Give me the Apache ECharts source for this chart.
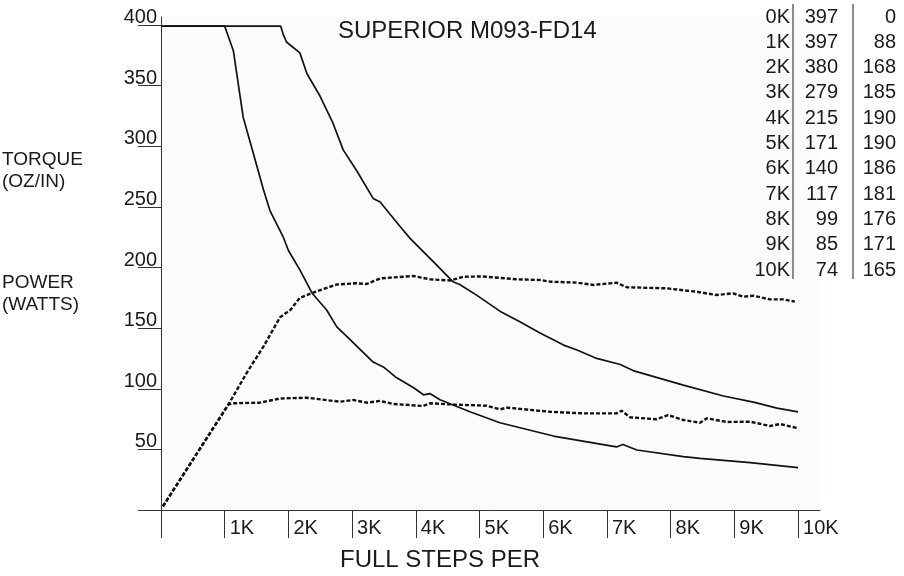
<!DOCTYPE html>
<html>
<head>
<meta charset="utf-8">
<title>SUPERIOR M093-FD14</title>
<script src="https://cdn.jsdelivr.net/npm/echarts@6/dist/echarts.min.js"></script>
<style>
  html, body { margin: 0; padding: 0; background: #fff; }
  #chart { width: 904px; height: 576px; }
</style>
</head>
<body>
<div id="chart"></div>
<script>
// speed in K full steps/s, torque oz/in, power watts
const torqueLow = [[0, 399], [1.0, 399], [1.135, 379], [1.29, 324], [1.45, 294], [1.61, 264], [1.71, 247], [1.92, 225], [2.0, 214], [2.18, 198], [2.37, 179], [2.6, 165], [2.76, 151], [2.92, 143], [3.33, 122], [3.49, 118], [3.7, 109], [3.96, 101], [4.12, 95], [4.22, 96], [4.38, 91], [4.85, 81], [5.32, 72], [6.16, 61], [7.15, 52], [7.25, 54], [7.47, 49.5], [8.2, 44], [8.46, 42.6], [9.25, 39], [10, 35]];
const torqueHigh = [[0, 399], [1.88, 399], [1.92, 392], [1.97, 386], [2.18, 377], [2.29, 360], [2.5, 341], [2.7, 319], [2.86, 297], [3.07, 280], [3.33, 257], [3.44, 254], [3.75, 234], [3.91, 224], [4.27, 205], [4.59, 188], [4.69, 186], [4.96, 177], [5.32, 164], [5.64, 155], [5.95, 146], [6.32, 136], [6.53, 132], [6.84, 125], [7.21, 120], [7.41, 115], [8.2, 103], [8.83, 94], [9.3, 89], [9.67, 84], [10, 81]];
const powerLow = [[0.03, 3], [1.06, 87], [1.11, 88], [1.55, 88.5], [1.87, 92], [2.29, 92.6], [2.81, 89.3], [3.02, 90.7], [3.23, 88.5], [3.44, 90], [3.65, 87.4], [4.12, 85.8], [4.22, 88], [4.59, 87], [5.11, 86], [5.32, 83], [5.43, 84.4], [6.11, 81], [6.63, 79.7], [7.15, 79.7], [7.23, 81.9], [7.36, 76.5], [7.78, 74.8], [7.96, 78.3], [8.2, 74.2], [8.46, 72], [8.57, 75.6], [8.88, 72.6], [9.25, 72.8], [9.56, 69.3], [9.72, 70.9], [10, 67.4]];
const powerHigh = [[0.03, 3], [1.08, 89], [1.345, 113], [1.61, 135], [1.87, 159], [2.03, 165], [2.18, 175], [2.37, 179], [2.76, 186], [3.07, 187], [3.23, 186.4], [3.44, 191], [3.96, 193], [4.22, 190.3], [4.54, 189.3], [4.75, 192.4], [5.06, 192.6], [5.58, 190.3], [5.95, 189.7], [6.11, 188.3], [6.53, 187.5], [6.79, 185.6], [7.15, 187.5], [7.31, 183.7], [7.94, 182.8], [8.41, 180], [8.72, 177.3], [8.98, 178.7], [9.14, 175.9], [9.3, 176.7], [9.56, 173.7], [9.77, 173.7], [9.95, 171.8]];

const xTicks = [0, 1, 2, 3, 4, 5, 6, 7, 8, 9, 10];
const xTickLabels = ["", "1K", "2K", "3K", "4K", "5K", "6K", "7K", "8K", "9K", "10K"];
const yTicks = [0, 50, 100, 150, 200, 250, 300, 350, 400];

const tableSpeeds = ["0K", "1K", "2K", "3K", "4K", "5K", "6K", "7K", "8K", "9K", "10K"];
const tableTorque = [397, 397, 380, 279, 215, 171, 140, 117, 99, 85, 74];
const tablePower = [0, 88, 168, 185, 190, 190, 186, 181, 176, 171, 165];

const FONT = "Liberation Sans, Arial, sans-serif";
const INK = "#1a1a1a";

const chart = echarts.init(document.getElementById("chart"));

const txt = (text, x, y, size, align) => ({
  type: "text",
  x: x,
  y: y,
  silent: true,
  style: {
    text: text,
    fill: INK,
    font: size + "px " + FONT,
    align: align || "left",
    verticalAlign: "middle",
    textAlign: align || "left",
    textVerticalAlign: "middle"
  }
});

// side table
const tableEls = [];
tableSpeeds.forEach((s, i) => {
  const y = 17 + i * 25.3;
  tableEls.push(txt(s, 790, y, 20, "right"));
  tableEls.push(txt(String(tableTorque[i]), 838, y, 20, "right"));
  tableEls.push(txt(String(tablePower[i]), 896, y, 20, "right"));
});
[793, 853].forEach(x => {
  tableEls.push({
    type: "line",
    silent: true,
    shape: { x1: x, y1: 4, x2: x, y2: 279 },
    style: { stroke: INK, lineWidth: 1 }
  });
});

const lineSeries = (name, data, dashed) => ({
  name: name,
  type: "line",
  data: data,
  symbol: "none",
  showSymbol: false,
  silent: true,
  lineStyle: {
    color: "#111",
    width: dashed ? 2.4 : 1.7,
    type: dashed ? [4, 2] : "solid"
  }
});

const option = {
  animation: false,
  backgroundColor: "#fff",
  textStyle: { fontFamily: FONT },
  grid: {
    left: 161,
    top: 17,
    width: 659,
    height: 493,
    show: true,
    backgroundColor: "#fafcfc",
    borderWidth: 0,
    outerBoundsMode: "none"
  },
  xAxis: {
    type: "value",
    min: 0,
    max: 10.345,
    splitLine: { show: false },
    axisLine: { show: true, onZero: false, lineStyle: { color: "#333", width: 1 } },
    axisTick: {
      show: true,
      customValues: xTicks,
      length: 28,
      lineStyle: { color: "#333", width: 1 }
    },
    axisLabel: {
      customValues: xTicks.slice(1),
      formatter: v => xTickLabels[Math.round(v)],
      color: INK,
      fontSize: 20,
      fontFamily: FONT,
      align: "left",
      verticalAlign: "middle",
      margin: 18.6,
      padding: [0, 0, 0, 5]
    }
  },
  yAxis: {
    type: "value",
    min: 0,
    max: 406.6,
    splitLine: { show: false },
    axisLine: { show: true, onZero: false, lineStyle: { color: "#333", width: 1 } },
    axisTick: {
      show: true,
      customValues: yTicks,
      length: 23,
      lineStyle: { color: "#333", width: 1 }
    },
    axisLabel: {
      customValues: yTicks.slice(1),
      color: INK,
      fontSize: 20,
      fontFamily: FONT,
      align: "right",
      verticalAlign: "bottom",
      lineHeight: 15,
      margin: 4
    }
  },
  graphic: [
    txt("SUPERIOR M093-FD14", 338, 31.5, 24),
    txt("FULL STEPS PER", 340, 560, 24),
    txt("TORQUE", 2, 160, 19),
    txt("(OZ/IN)", 2, 182, 19),
    txt("POWER", 2, 283, 19),
    txt("(WATTS)", 2, 305, 19)
  ].concat(tableEls),
  series: [
    lineSeries("Torque A", torqueLow, false),
    lineSeries("Torque B", torqueHigh, false),
    lineSeries("Power A", powerLow, true),
    lineSeries("Power B", powerHigh, true)
  ]
};

chart.setOption(option);

window.addEventListener("resize", () => chart.resize());
</script>
</body>
</html>
